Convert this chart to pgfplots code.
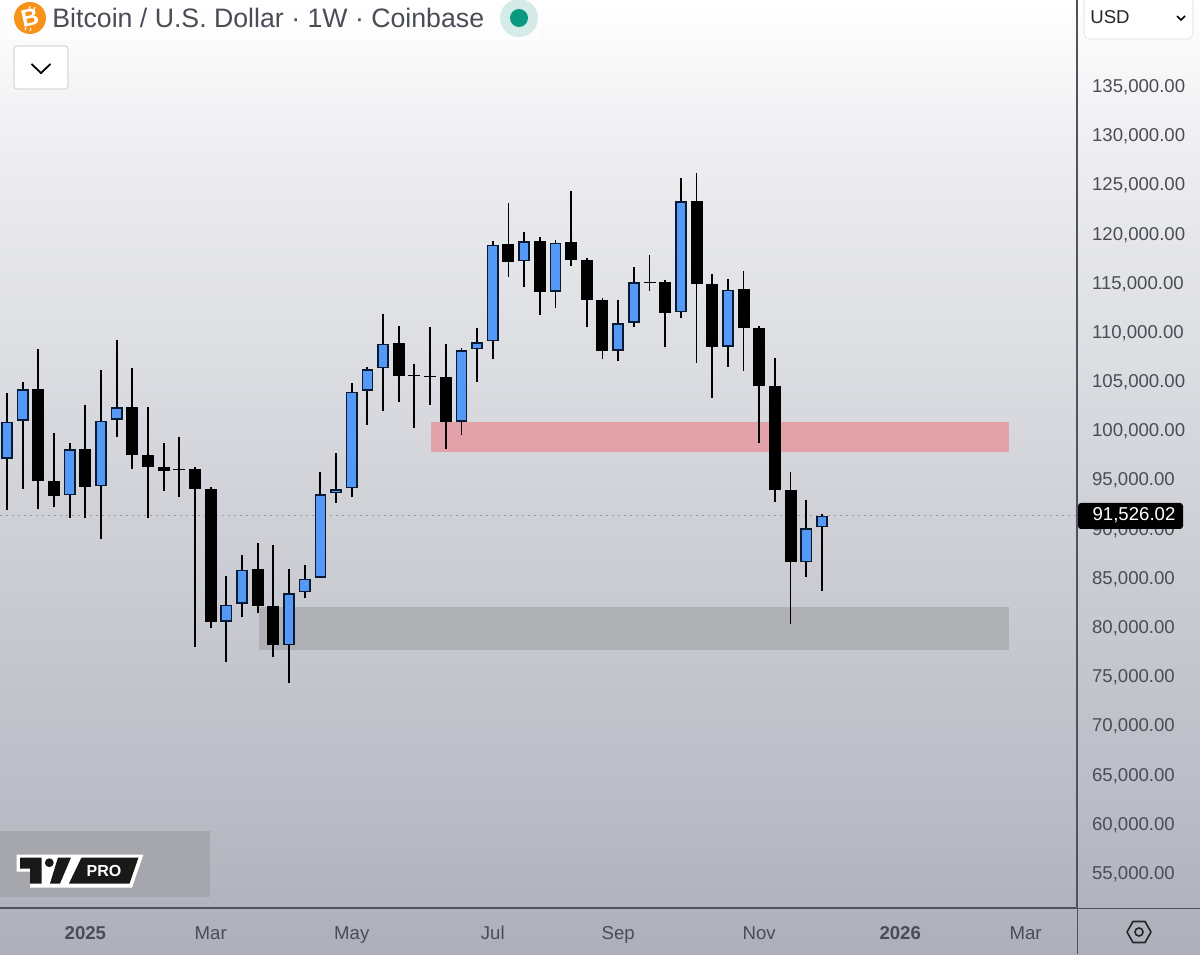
\documentclass[border=0pt]{standalone}
\usepackage{pgfplots}
\pgfplotsset{compat=1.18}
\usepackage{pgfplotstable}
\usepackage{fontspec}
\setmainfont{Liberation Sans}
\definecolor{bga}{HTML}{FFFFFF}
\definecolor{bgb}{HTML}{EEEEF1}
\definecolor{bgc}{HTML}{E1E2E6}
\definecolor{bgd}{HTML}{D0D1D7}
\definecolor{bge}{HTML}{BABCC6}
\definecolor{bgf}{HTML}{ADAFBA}
\pgfdeclareverticalshading{chartbg}{100bp}{color(0bp)=(bgf); color(25bp)=(bgf); color(33.07bp)=(bge); color(47.96bp)=(bgd); color(59.28bp)=(bgc); color(67.14bp)=(bgb); color(75bp)=(bga); color(100bp)=(bga)}
\definecolor{upblue}{HTML}{5599F6}
\definecolor{upedge}{HTML}{0B1A33}
\definecolor{zonered}{HTML}{E3A2A9}
\definecolor{zonegray}{HTML}{AFB0B4}
\definecolor{axisgray}{HTML}{50535C}
\definecolor{labelgray}{HTML}{4A4D55}
\definecolor{lastgray}{HTML}{9A9CA4}
\definecolor{btc}{HTML}{F7931A}
\definecolor{livegreen}{HTML}{089981}
\definecolor{livepale}{HTML}{D5EBE8}
\definecolor{logobox}{HTML}{A6A7AD}
\pgfplotstableread{
i open high low close
0 97306 104046 92122 101098
1 101199 105103 94257 104422
4 93616 98963 91339 98323
6 94531 106353 89144 101199
7 101271 109403 99512 102562
14 80737 85413 76641 82496
15 82567 87517 81215 86054
18 78369 86094 74506 83685
19 83756 86501 83146 85139
20 85210 96015 85179 93748
21 93820 97947 92864 94257
22 94328 105062 93413 104147
23 104218 106689 100762 106455
24 106526 112046 102185 109027
29 101067 108589 99746 108386
30 108457 110653 105164 109169
31 109270 119497 107502 119090
33 117402 120351 114821 119466
35 114282 119568 112686 119293
39 108284 113469 107298 111131
40 111161 116854 110694 115268
43 112218 125840 111639 123501
46 108722 115603 106689 114516
51 86806 93139 85281 90292
52 90363 91685 83858 91526
}\candlesup
\pgfplotstableread{
i open high low close
2 104452 108457 92193 95070
3 95070 99919 92457 93576
5 98353 102765 91278 94491
8 102562 106526 96259 97682
9 97682 102623 91278 96493
10 96463 98902 94084 96117
11 96290 99573 93413 96160
12 96259 96524 78227 94287
13 94287 94430 80097 80737
16 86094 88798 81622 82394
17 82394 88534 77149 78369
25 109067 110856 103131 105743
26 105845 106963 100457 105710
27 105774 110755 102826 105642
28 105611 109027 98292 101037
32 119131 123298 115776 117362
34 119497 119903 111944 114251
36 119334 124579 116925 117535
37 117535 117708 110694 113469
38 113499 113642 107441 108254
41 115329 118043 114414 115200
42 115298 115471 108661 112147
44 123562 126348 107095 115095
45 115095 116112 103537 108691
47 114556 116447 106282 110592
48 110592 110826 98902 104696
49 104696 107543 92966 94155
50 94155 95954 80534 86806
}\candlesdown
\begin{document}
\begin{tikzpicture}
\useasboundingbox (0,0) rectangle (600pt,477pt);
\shade[shading=chartbg,shading angle=0] (0,0) rectangle (600pt,477pt);
\begin{axis}[
  at={(0pt,23pt)},anchor=south west,
  scale only axis,width=538.5pt,height=454pt,
  xmin=-0.4467,xmax=68.28,ymin=51666,ymax=143964,
  axis x line*=bottom,axis y line*=right,
  axis line style={draw=axisgray,line width=0.6pt},
  tick style={draw=none},major tick length=0pt,
  xtick={5,13,22,31,39,48,57,65},
  xticklabels={\textbf{2025},Mar,May,Jul,Sep,Nov,\textbf{2026},Mar},
  x tick label style={font=\fontsize{9.3}{11}\selectfont,text=labelgray,anchor=north,text height=7pt,text depth=2pt,yshift=-5pt},
  ytick={55000,60000,...,135000},
  scaled y ticks=false,
  y tick label style={font=\fontsize{9.3}{11}\selectfont,text=labelgray,anchor=west,xshift=4pt,yshift=0.5pt,
    /pgf/number format/.cd,fixed,fixed zerofill,precision=2,1000 sep={,},assume math mode=true},
  error bars/error mark=none,
]
% zones
\addplot[fill=zonered,draw=none] coordinates {(27.06,101067)(63.94,101067)(63.94,98069)(27.06,98069)} --cycle;
\addplot[fill=zonegray,draw=none] coordinates {(16.08,82293)(63.94,82293)(63.94,77860)(16.08,77860)} --cycle;
% last price line
\addplot[lastgray,line width=0.5pt,dash pattern=on 1pt off 2pt] coordinates {(-0.4467,91526)(68.28,91526)};
% wicks
\addplot[draw=none,no marks,error bars/.cd,y dir=plus,y explicit,error bar style={draw=black,line width=0.95pt}]
  table[x=i,y=low,y error plus expr=\thisrow{high}-\thisrow{low}] {\candlesup};
\addplot[draw=none,no marks,error bars/.cd,y dir=plus,y explicit,error bar style={draw=black,line width=0.95pt}]
  table[x=i,y=low,y error plus expr=\thisrow{high}-\thisrow{low}] {\candlesdown};
% falling bodies
\addplot[draw=none,no marks,error bars/.cd,y dir=plus,y explicit,error bar style={draw=black,line width=6pt}]
  table[x=i,y=close,y error plus expr=\thisrow{open}-\thisrow{close}] {\candlesdown};
% rising bodies: edge, then fill
\addplot[draw=none,no marks,error bars/.cd,y dir=plus,y explicit,error bar style={draw=upedge,line width=5.9pt}]
  table[x=i,y=open,y error plus expr=\thisrow{close}-\thisrow{open}] {\candlesup};
\addplot[draw=none,no marks,error bars/.cd,y dir=plus,y explicit,error bar style={draw=upblue,line width=4.3pt}]
  table[x=i,y expr=\thisrow{open}+155,y error plus expr=\thisrow{close}-\thisrow{open}-310] {\candlesup};
\end{axis}
\begin{scope}[x=0.5pt,y=-0.5pt,yshift=477pt]
% frame lines
\draw[axisgray,line width=0.6pt] (0,908.5)--(1200,908.5);
\draw[axisgray,line width=0.6pt] (1077.5,0)--(1077.5,954);
% title panel
\fill[white,fill opacity=0.55,rounded corners=2pt] (5,-4) rectangle (540,40);
\fill[btc] (30,18) circle (16);
\node[text=white,rotate=12,font=\fontsize{12}{12}\selectfont\bfseries] at (30,18) {B};
\draw[white,line width=0.5pt] (29,9)--(30,6) (34,10)--(35,7) (26,27)--(25,30) (31,28)--(30,31);
\node[anchor=west,inner sep=0pt,text=labelgray,font=\fontsize{13.35}{16}\selectfont] at (52,18) {Bitcoin / U.S. Dollar · 1W · Coinbase};
\fill[livepale] (519,18) circle (19);
\fill[livegreen] (519,18) circle (9);
% collapse button
\draw[draw=black!15,fill=white,rounded corners=1.5pt,line width=0.6pt] (14,46) rectangle (68,89);
\draw[black,line width=0.9pt] (31.5,64)--(41,73)--(50.5,64);
% currency
\draw[draw=black!8,fill=white,rounded corners=3pt,line width=0.6pt] (1084,-6) rectangle (1193,39);
\node[anchor=west,inner sep=0pt,text=black!85,font=\fontsize{9.3}{11}\selectfont] at (1090,17) {USD};
\draw[black,line width=0.8pt] (1177,16)--(1181,20)--(1185,16);
% last price tag
\fill[black,rounded corners=1.5pt] (1078,503) rectangle (1183,529);
\node[text=white,inner sep=0pt,font=\fontsize{9.3}{11}\selectfont] at (1134,515.5) {91,526.02};
% hexagon icon
\draw[black!85,line width=0.8pt,line join=round] (1127,932)--(1133,921.5)--(1145,921.5)--(1151,932)--(1145,942.5)--(1133,942.5)--cycle;
\draw[black!85,line width=0.8pt] (1139,932) circle (4);
% logo
\fill[logobox] (0,831) rectangle (210,897);
\fill[white] (16.5,854.5)--(143.5,854.5)--(132,887.5)--(30,887.5)--(30,871.5)--(16.5,871.5)--cycle;
\fill[black!90] (20,857.5)--(41.5,857.5)--(41.5,883.5)--(30,883.5)--(30,868.5)--(20,868.5)--cycle;
\fill[black!90] (49.3,862.7) circle (4.4);
\fill[black!90] (58,857.5)--(71,857.5)--(60,883.5)--(50,883.5)--cycle;
\fill[black!90] (81.5,857.5)--(138.5,857.5)--(129.5,883.5)--(69,883.5)--cycle;
\node[text=white,inner sep=0pt,font=\fontsize{8}{8}\selectfont\bfseries] at (104,871) {PRO};
\end{scope}
\end{tikzpicture}
\end{document}
